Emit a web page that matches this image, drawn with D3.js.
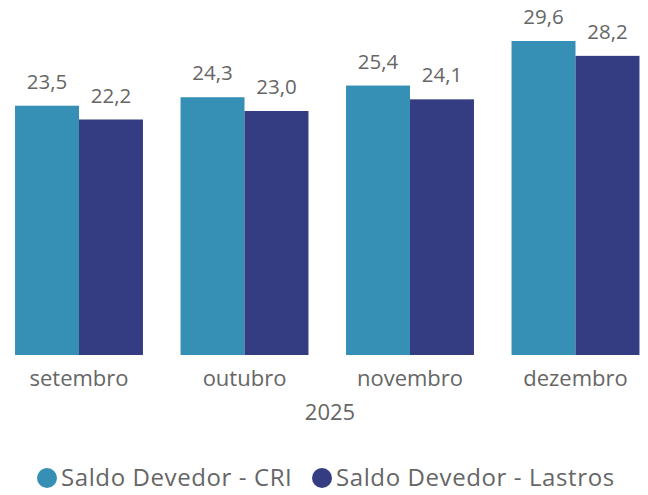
<!DOCTYPE html>
<html><head><meta charset="utf-8">
<script src="https://cdn.jsdelivr.net/npm/d3@7"></script>
<style>body{margin:0;background:#fff}svg text{font-family:"Open Sans","Noto Sans",sans-serif;fill:#666}</style>
</head><body><svg id="c" width="648" height="495"></svg>
<script>
const categories = ["setembro","outubro","novembro","dezembro"];
const yearLabel = "2025";
const seriesNames = ["Saldo Devedor - CRI","Saldo Devedor - Lastros"];
const cri = [23.5,24.3,25.4,29.6];
const lastros = [22.2,23.0,24.1,28.2];
const colors = ["#368FB4","#343C82"];

const svg = d3.select("#c");
const fmt = v => d3.format(".1f")(v).replace(".", ",");
const x = d3.scaleBand().domain(categories).range([-3.75, 658.25]).paddingInner(0.227).paddingOuter(0.1135);
const x1 = d3.scaleBand().domain([0,1]).range([0, x.bandwidth()]);
const y = d3.scaleLinear().domain([0, 29.6]).range([355, 41]);
const series = [cri, lastros];

const g = svg.append("g");
series.forEach((vals, si) => {
  g.selectAll(".b"+si).data(vals).enter().append("rect")
    .attr("x", (d,i)=>x(categories[i]) + x1(si))
    .attr("width", x1.bandwidth())
    .attr("y", d=>y(d))
    .attr("height", d=>y(0)-y(d))
    .attr("fill", colors[si]);
  g.selectAll(".l"+si).data(vals).enter().append("text")
    .attr("x", (d,i)=>x(categories[i]) + x1(si) + x1.bandwidth()/2)
    .attr("y", d=>y(d)-17)
    .attr("text-anchor","middle")
    .attr("font-size", 20.5)
    .text(fmt);
});

const xa = svg.append("g").attr("transform","translate(0,355)")
  .call(d3.axisBottom(x).tickSize(0).tickPadding(15));
xa.select(".domain").remove();
xa.selectAll("text").attr("font-size",22).attr("fill","#666").style("font-family",'"Open Sans","Noto Sans",sans-serif');

svg.append("text").attr("x", 330).attr("y", 420).attr("text-anchor","middle").attr("font-size",22).text(yearLabel);

const leg = svg.append("g");
const legX = [47, 322];
seriesNames.forEach((n,i)=>{
  leg.append("circle").attr("cx", legX[i]).attr("cy", 478).attr("r", 10).attr("fill", colors[i]);
  leg.append("text").attr("x", legX[i]+14).attr("y", 486).attr("font-size", 24).attr("letter-spacing", 0.6).text(n);
});
</script></body></html>
